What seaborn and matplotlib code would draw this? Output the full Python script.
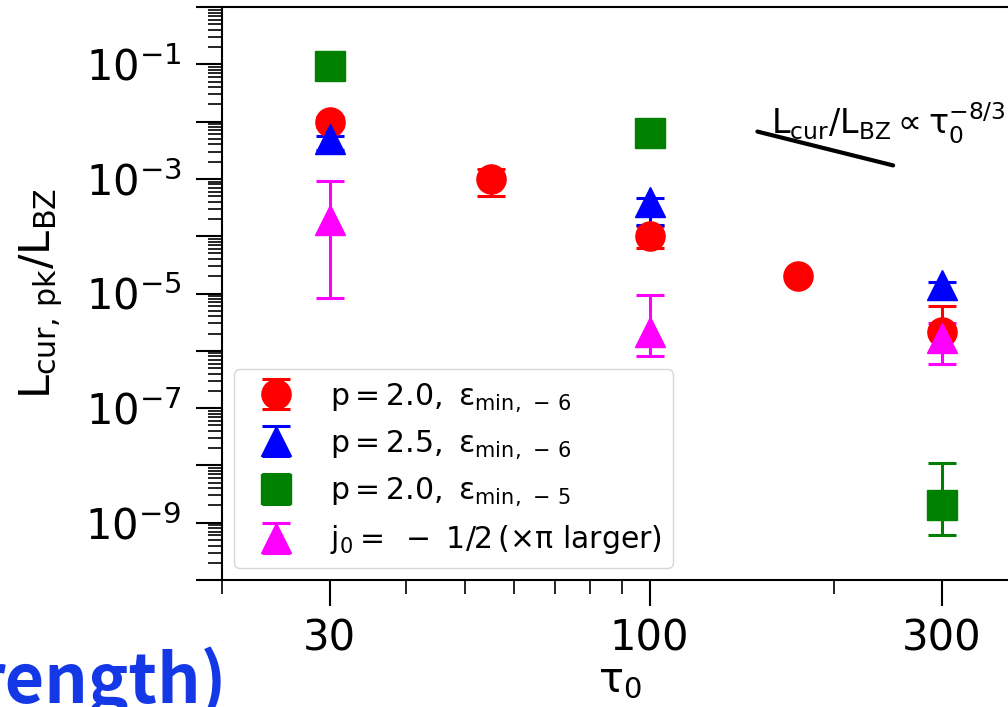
import numpy as np
import matplotlib
matplotlib.use("Agg")
import matplotlib.pyplot as plt
import matplotlib.ticker as mticker
import seaborn as sns

sns.set_style("ticks")
plt.rcParams['font.family'] = ['DejaVu Sans']
plt.rcParams['mathtext.default'] = 'regular'
plt.rcParams['text.color'] = 'black'
plt.rcParams['axes.labelcolor'] = 'black'
plt.rcParams['xtick.color'] = 'black'
plt.rcParams['ytick.color'] = 'black'

# ---- data ----
tau_red = [30, 55, 100, 175, 300]
L_red = [1.0e-2, 1.0e-3, 1.0e-4, 2.0e-5, 2.1e-6]
lo_red = [8.0e-3, 5.0e-4, 6.2e-5, 1.7e-5, 1.0e-6]
hi_red = [1.2e-2, 1.48e-3, 1.5e-4, 2.3e-5, 6.0e-6]

tau_blue = [30, 100, 300]
L_blue = [5.0e-3, 4.0e-4, 1.4e-5]
lo_blue = [3.2e-3, 1.55e-4, 8.0e-6]
hi_blue = [5.6e-3, 4.6e-4, 1.6e-5]

tau_green = [30, 100, 300]
L_green = [9.3e-2, 6.2e-3, 2.0e-9]
lo_green = [8.5e-2, 5.6e-3, 6.0e-10]
hi_green = [1.0e-1, 6.8e-3, 1.1e-8]

tau_mag = [30, 100, 300]
L_mag = [1.95e-4, 2.1e-6, 1.65e-6]
lo_mag = [8.5e-6, 8.0e-7, 6.0e-7]
hi_mag = [9.1e-4, 9.3e-6, 3.0e-6]

labels = [r'$p = 2.0,\ ε_{min,\,-\,6}$',
          r'$p = 2.5,\ ε_{min,\,-\,6}$',
          r'$p = 2.0,\ ε_{min,\,-\,5}$',
          r'$j_0 =\ -\ 1/2\,(\times\pi\ larger)$']

guide_tau = [150, 250]
guide_L = [6.7e-3, 1.72e-3]

x_ticks = [30, 100, 300]
x_ticklabels = ['30', '100', '300']

# ---- figure ----
fig = plt.figure(figsize=(10.08, 7.07), dpi=100)
ax = fig.add_axes([222 / 1008, (707 - 580) / 707, 796 / 1008, 573 / 707])
ax.set_xscale('log')
ax.set_yscale('log')

series = [
    (tau_red, L_red, lo_red, hi_red, 'o', 'red'),
    (tau_blue, L_blue, lo_blue, hi_blue, '^', 'blue'),
    (tau_green, L_green, lo_green, hi_green, 's', 'green'),
    (tau_mag, L_mag, lo_mag, hi_mag, '^', 'magenta'),
]
for (x, y, lo, hi, m, c), lab in zip(series, labels):
    y = np.array(y); lo = np.array(lo); hi = np.array(hi)
    ax.errorbar(x, y, yerr=[y - lo, hi - y], fmt=m, color=c, ms=21,
                elinewidth=2.2, capsize=10, capthick=2.2, label=lab)

sns.lineplot(x=guide_tau, y=guide_L, ax=ax, color='black', lw=3, legend=False)
ax.text(158, 6.0e-3, r'$L_{cur}/L_{BZ} \propto \tau_0^{-8/3}$', fontsize=24)

ax.set_xlim(20, 400)
ax.set_ylim(1e-10, 1)

ax.xaxis.set_major_locator(mticker.FixedLocator(x_ticks))
ax.xaxis.set_major_formatter(mticker.FixedFormatter(x_ticklabels))
ax.xaxis.set_minor_locator(mticker.LogLocator(base=10, subs=np.arange(2, 10)))
ax.xaxis.set_minor_formatter(mticker.NullFormatter())

ax.yaxis.set_major_locator(mticker.LogLocator(base=10, numticks=20))
def yfmt(v, pos):
    e = int(round(np.log10(v)))
    return r'$\mathdefault{10^{%d}}$' % e if e % 2 != 0 else ''
ax.yaxis.set_major_formatter(mticker.FuncFormatter(yfmt))
ax.yaxis.set_minor_locator(mticker.LogLocator(base=10, subs=np.arange(2, 10), numticks=20))
ax.yaxis.set_minor_formatter(mticker.NullFormatter())

ax.tick_params(which='major', length=19, width=1.5, labelsize=30, pad=8, direction='out')
ax.tick_params(axis='y', which='major', pad=10)
ax.tick_params(which='minor', length=10, width=1.2, direction='out')
for s in ax.spines.values():
    s.set_linewidth(1.5)
    s.set_color('black')

ax.set_xlabel(r'$\tau_0$', fontsize=30, labelpad=0)
ax.set_ylabel(r'$L_{cur,\,pk}/L_{BZ}$', fontsize=31, labelpad=15)

leg = ax.legend(loc='lower left', fontsize=21.5, frameon=True, borderaxespad=0.4,
                handletextpad=0.8, labelspacing=0.5, borderpad=0.4)
leg.get_frame().set_edgecolor('0.8')

fig.text(227 / 1008, 0.005, 'rength)', ha='right', va='baseline',
         fontsize=49, fontweight='bold', color='#1438e6',
         family=['Noto Sans CJK JP', 'DejaVu Sans'])

fig.savefig('out.png', dpi=100)
